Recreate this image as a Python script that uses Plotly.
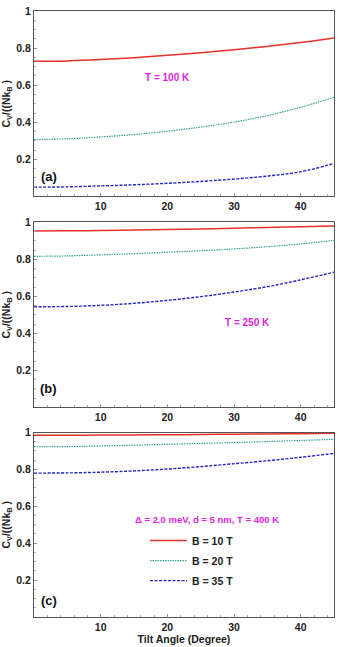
import plotly.graph_objects as go

angles = [0, 5, 10, 15, 20, 25, 30, 35, 40, 45]

# Panel (a) T = 100 K
a_b10 = [0.729, 0.731, 0.738, 0.748, 0.761, 0.775, 0.791, 0.809, 0.830, 0.854]
a_b20 = [0.307, 0.311, 0.321, 0.334, 0.352, 0.374, 0.401, 0.436, 0.481, 0.535]
a_b35 = [0.050, 0.052, 0.057, 0.063, 0.071, 0.081, 0.094, 0.110, 0.133, 0.178]
# Panel (b) T = 250 K
b_b10 = [0.953, 0.954, 0.955, 0.958, 0.961, 0.964, 0.968, 0.972, 0.976, 0.980]
b_b20 = [0.816, 0.818, 0.824, 0.830, 0.838, 0.846, 0.856, 0.868, 0.883, 0.902]
b_b35 = [0.543, 0.545, 0.551, 0.562, 0.578, 0.598, 0.623, 0.652, 0.689, 0.730]
# Panel (c) T = 400 K
c_b10 = [0.985, 0.985, 0.986, 0.987, 0.988, 0.989, 0.991, 0.992, 0.994, 0.996]
c_b20 = [0.923, 0.924, 0.927, 0.931, 0.936, 0.941, 0.946, 0.951, 0.957, 0.963]
c_b35 = [0.780, 0.781, 0.785, 0.792, 0.802, 0.815, 0.831, 0.847, 0.866, 0.887]

series_names = ["B = 10 T", "B = 20 T", "B = 35 T"]
xticks = [10, 20, 30, 40]
yticks = [0.2, 0.4, 0.6, 0.8, 1.0]
yticklabels = ["0.2", "0.4", "0.6", "0.8", "1"]

colors = ["#e8302c", "#35a592", "#2424c8"]
dashes = ["solid", "1.5px,1px", "3px,1.5px"]
widths = [1.5, 1.2, 1.4]

panels = [
    ("x", "y", [a_b10, a_b20, a_b35]),
    ("x2", "y2", [b_b10, b_b20, b_b35]),
    ("x3", "y3", [c_b10, c_b20, c_b35]),
]

fig = go.Figure()
for pi, (xa, ya, data) in enumerate(panels):
    for si, vals in enumerate(data):
        fig.add_trace(go.Scatter(
            x=angles, y=vals, xaxis=xa, yaxis=ya, mode="lines",
            line=dict(color=colors[si], width=widths[si], dash=dashes[si], shape="spline"),
            name=series_names[si], showlegend=(pi == 2), legendgroup="g%d" % si,
        ))

FONT = "Liberation Sans, Arial, sans-serif"
H = 647
t, b = 10, 26
ph = H - t - b


def dom(top_px, bot_px):
    return [(H - b - bot_px) / ph, (H - b - top_px) / ph]


domains = [dom(10, 197), dom(223, 409.6), dom(435, 621)]

axis_common = dict(
    showline=True, linecolor="#555555", linewidth=1, mirror=True,
    ticks="inside", ticklen=3, tickcolor="#999999",
    showgrid=False, zeroline=False,
    tickfont=dict(family=FONT, size=10.5, color="#222222", weight="bold"),
)

layout = dict(
    width=340, height=H,
    margin=dict(l=33, r=5, t=t, b=b),
    paper_bgcolor="white", plot_bgcolor="white",
    font=dict(family=FONT, color="#222222"),
    showlegend=True,
    legend=dict(
        x=0.37, y=0.150, xanchor="left", yanchor="top",
        bgcolor="rgba(0,0,0,0)", borderwidth=0,
        font=dict(family=FONT, size=10.5, color="#222222", weight="bold"),
        tracegroupgap=1, itemwidth=37, traceorder="grouped",
    ),
)
for i, d in enumerate(domains):
    sx = "" if i == 0 else str(i + 1)
    layout["xaxis" + sx] = dict(
        axis_common, domain=[0, 1], range=[0, 45], anchor="y" + sx,
        tickvals=xticks, minor=dict(dtick=2, ticks="inside", ticklen=2, tickcolor="#aaaaaa"),
        title=dict(text="Tilt Angle (Degree)" if i == 2 else "",
                   font=dict(family=FONT, size=10.5, weight="bold"), standoff=2),
    )
    layout["yaxis" + sx] = dict(
        axis_common, domain=d, range=[0, 1], anchor="x" + sx,
        tickvals=yticks, ticktext=yticklabels,
        minor=dict(dtick=0.05, ticks="inside", ticklen=2, tickcolor="#aaaaaa"),
        title=dict(text="C<sub>V</sub>/((Nk<sub>B</sub> )",
                   font=dict(family=FONT, size=10.5, weight="bold"), standoff=4),
    )
fig.update_layout(**layout)

mag = "#e01ee0"
ann = [
    dict(text="T = 100 K", x=20, y=0.64, xref="x", yref="y", font=dict(color=mag, size=10, weight="bold")),
    dict(text="T = 250 K", x=32, y=0.46, xref="x2", yref="y2", font=dict(color=mag, size=10, weight="bold")),
    dict(text="Δ = 2.0 meV, d = 5 nm, T = 400 K", x=26, y=0.53, xref="x3", yref="y3",
         font=dict(color=mag, size=9.5, weight="bold")),
    dict(text="(a)", x=2.2, y=0.11, xref="x", yref="y", xanchor="center", font=dict(color="#111111", size=13, weight="bold")),
    dict(text="(b)", x=2.2, y=0.10, xref="x2", yref="y2", xanchor="center", font=dict(color="#111111", size=13, weight="bold")),
    dict(text="(c)", x=2.2, y=0.09, xref="x3", yref="y3", xanchor="center", font=dict(color="#111111", size=13, weight="bold")),
]
for a in ann:
    a["showarrow"] = False
    a["font"]["family"] = FONT
fig.update_layout(annotations=ann)

fig.write_html("out.html")
